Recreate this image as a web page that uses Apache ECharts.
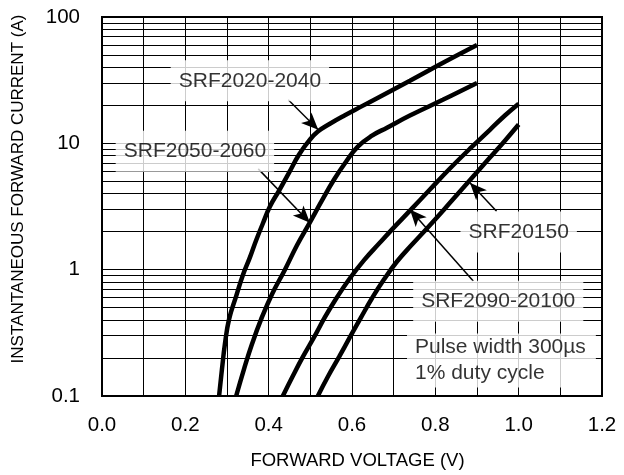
<!DOCTYPE html>
<html>
<head>
<meta charset="utf-8">
<script src="https://cdn.jsdelivr.net/npm/echarts@6/dist/echarts.min.js"></script>
<style>
  html, body { margin: 0; padding: 0; background: #fff; }
  #chart { width: 624px; height: 475px; }
</style>
</head>
<body>
<div id="chart"></div>
<script>
const FONT = '"Liberation Sans", Arial, sans-serif';

// [forward voltage V, current A]
const srf2020_2040 = [[0.281,0.1],[0.288,0.164],[0.295,0.258],[0.305,0.406],[0.322,0.617],[0.338,0.904],[0.355,1.25],[0.370,1.71],[0.386,2.32],[0.403,3.16],[0.425,4.23],[0.449,5.87],[0.473,8.15],[0.497,10.5],[0.518,12.4],[0.547,14.3],[0.583,16.7],[0.624,19.7],[0.667,23.4],[0.739,31.3],[0.823,44.2],[0.9,60]];
const srf2050_2060 = [[0.322,0.1],[0.341,0.164],[0.360,0.258],[0.382,0.406],[0.408,0.64],[0.439,1.0],[0.468,1.56],[0.499,2.37],[0.528,3.53],[0.557,5.17],[0.586,7.18],[0.614,9.43],[0.648,11.5],[0.684,13.3],[0.739,16.6],[0.818,22.1],[0.9,30]];
const srf2090_20100 = [[0.434,0.1],[0.458,0.144],[0.482,0.204],[0.509,0.292],[0.535,0.421],[0.564,0.605],[0.595,0.855],[0.629,1.19],[0.665,1.61],[0.703,2.2],[0.742,3.0],[0.787,4.31],[0.835,6.32],[0.883,9.07],[0.931,12.8],[0.967,16.6],[1.0,20.6]];
const srf20150 = [[0.518,0.1],[0.542,0.142],[0.569,0.204],[0.595,0.292],[0.622,0.421],[0.648,0.594],[0.677,0.839],[0.708,1.16],[0.744,1.58],[0.782,2.16],[0.821,3.0],[0.859,4.16],[0.895,5.66],[0.931,7.71],[0.967,10.5],[1.0,14.1]];

// log grid lines between the decades
const minorGrid = [0.2,0.3,0.4,0.5,0.6,0.7,0.8,0.9, 2,3,4,5,6,7,8,9, 20,30,40,50,60,70,80,90];

// callout text and where it sits (V, A)
const callouts = [
  { name: 'SRF2020-2040', value: [0.355, 31.3] },
  { name: 'SRF2050-2060', value: [0.223, 8.65] },
  { name: 'SRF20150', value: [1.0, 1.99] },
  { name: 'SRF2090-20100', value: [0.951, 0.563] }
];
const note = { name: 'Pulse width 300µs\n1% duty cycle', value: [0.732, 0.191] };

// arrows: [from, to] in (V, A)
const arrows = [
  [[0.447, 22.1], [0.519, 12.8]],
  [[0.375, 6.28], [0.499, 2.35]],
  [[0.947, 2.9], [0.883, 4.87]],
  [[0.891, 0.815], [0.739, 3.0]]
];

const chart = echarts.init(document.getElementById('chart'));

const curve = d => ({
  type: 'line', data: d, showSymbol: false, smooth: 0.45,
  lineStyle: { color: '#000', width: 4.5 }, z: 3, silent: true
});

chart.setOption({
  animation: false,
  backgroundColor: '#fff',
  grid: { left: 102, right: 22, top: 17, bottom: 78, show: true, borderColor: '#000', borderWidth: 2, backgroundColor: 'transparent' },
  xAxis: {
    type: 'value', min: 0, max: 1.2, interval: 0.1,
    name: 'FORWARD VOLTAGE (V)', nameLocation: 'middle', nameGap: 55,
    nameTextStyle: { fontFamily: FONT, fontSize: 18.5, color: '#000', padding: [0, 0, 0, 11] },
    axisLine: { lineStyle: { color: '#000', width: 2 } },
    axisTick: { show: false },
    axisLabel: {
      fontFamily: FONT, fontSize: 20.5, color: '#000', margin: 19,
      formatter: v => { const k = Math.round(v * 10); return k % 2 === 0 ? (k / 10).toFixed(1) : ''; }
    },
    splitLine: { show: true, lineStyle: { color: '#000', width: 1 } }
  },
  yAxis: {
    type: 'log', logBase: 10, min: 0.1, max: 100,
    axisLine: { lineStyle: { color: '#000', width: 2 } },
    axisTick: { show: false },
    axisLabel: { fontFamily: FONT, fontSize: 20.5, color: '#000', margin: 22, formatter: v => String(v) },
    splitLine: { show: true, lineStyle: { color: '#000', width: 1 } },
    minorTick: { show: false }, minorSplitLine: { show: false }
  },
  graphic: [{
    type: 'text', x: 18, y: 189, rotation: Math.PI / 2,
    style: { text: 'INSTANTANEOUS FORWARD CURRENT (A)', fill: '#000', font: '17px ' + FONT, align: 'center', verticalAlign: 'middle' }
  }],
  series: [
    {
      type: 'line', data: [], z: 1, silent: true,
      markLine: {
        silent: true, symbol: 'none', label: { show: false }, animation: false,
        lineStyle: { color: '#000', width: 1, type: 'solid' },
        data: minorGrid.map(v => ({ yAxis: v }))
      }
    },
    curve(srf2020_2040),
    curve(srf2050_2060),
    curve(srf2090_20100),
    curve(srf20150),
    {
      type: 'scatter', data: callouts, symbolSize: 0, z: 5, silent: true,
      label: {
        show: true, position: 'inside', formatter: p => p.name,
        fontFamily: FONT, fontSize: 21, color: '#000',
        backgroundColor: '#fff', padding: [10, 8]
      }
    },
    {
      type: 'scatter', data: [note], symbolSize: 0, z: 5, silent: true,
      label: {
        show: true, position: 'right', distance: 0, formatter: p => p.name,
        fontFamily: FONT, fontSize: 21, lineHeight: 26, color: '#000', align: 'left',
        backgroundColor: '#fff', padding: [1, 10, 1, 8]
      }
    },
    {
      type: 'line', data: [], z: 6, silent: true,
      markLine: {
        silent: true, symbol: ['none', 'arrow'], symbolSize: [11, 17], label: { show: false }, animation: false,
        lineStyle: { color: '#000', width: 1.5, type: 'solid' },
        data: arrows.map(a => [{ coord: a[0] }, { coord: a[1] }])
      }
    }
  ]
});
</script>
</body>
</html>
